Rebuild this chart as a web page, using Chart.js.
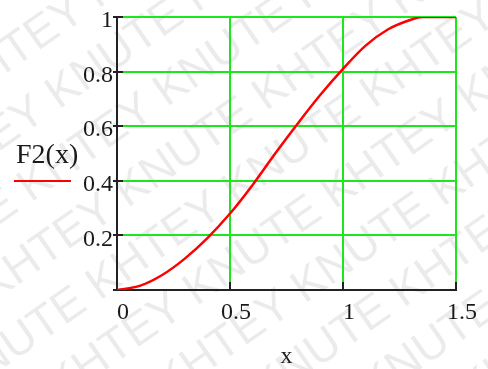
<!DOCTYPE html>
<html>
<head>
<meta charset="utf-8">
<script src="https://cdn.jsdelivr.net/npm/chart.js@4.4.1/dist/chart.umd.min.js"></script>
<style>
  html, body { margin: 0; padding: 0; background: #fff; }
  #wrap { width: 488px; height: 369px; position: relative; }
</style>
</head>
<body>
<div id="wrap"><canvas id="chart" width="488" height="369"></canvas></div>
<script>
// values
const xValues = [0, 0.1, 0.2, 0.3, 0.4, 0.5, 0.6, 0.7, 0.8, 0.9, 1.0, 1.1, 1.2, 1.3, 1.35, 1.4, 1.5];
const f2Values = [0, 0.015, 0.055, 0.115, 0.19, 0.28, 0.385, 0.5, 0.61, 0.715, 0.81, 0.895, 0.955, 0.99, 1, 1, 1];
const xTicks = [0, 0.5, 1, 1.5];
const yTicks = [0, 0.2, 0.4, 0.6, 0.8, 1];
const seriesLabel = 'F2(x)';
const xTitle = 'x';

const serif = "'Liberation Serif', 'DejaVu Serif', serif";
const gridGreen = '#1ee61e';

// faint watermark behind everything
const watermark = {
    id: 'watermark',
    beforeDraw(chart) {
        const ctx = chart.ctx;
        ctx.save();
        ctx.fillStyle = '#fff';
        ctx.fillRect(0, 0, chart.width, chart.height);
        ctx.translate(chart.width / 2, chart.height / 2);
        ctx.rotate(-35 * Math.PI / 180);
        ctx.font = "46px 'Liberation Sans', sans-serif";
        ctx.fillStyle = 'rgba(0,0,0,0.08)';
        ctx.textBaseline = 'middle';
        for (let r = -6; r <= 6; r++) {
            const shift = (r % 2 === 0) ? 0 : -90;
            ctx.fillText('KHTEY KNUTE KHTEY KNUTE KHTEY KNUTE', -520 + shift, r * 60);
        }
        ctx.restore();
    }
};

// inner tick marks, series label and line sample on the left
const extras = {
    id: 'extras',
    afterDraw(chart) {
        const ctx = chart.ctx;
        const xs = chart.scales.x, ys = chart.scales.y;
        const area = chart.chartArea;
        ctx.save();
        ctx.strokeStyle = '#222';
        ctx.lineWidth = 2;
        xTicks.forEach(v => {
            if (v === 0) return;
            const px = Math.round(xs.getPixelForValue(v));
            ctx.beginPath();
            ctx.moveTo(px, area.bottom);
            ctx.lineTo(px, area.bottom - 8);
            ctx.stroke();
        });
        yTicks.forEach(v => {
            if (v === 0) return;
            const py = Math.round(ys.getPixelForValue(v));
            ctx.beginPath();
            ctx.moveTo(area.left, py);
            ctx.lineTo(area.left + 6, py);
            ctx.stroke();
        });
        ctx.font = '28px ' + serif;
        ctx.fillStyle = '#1a1a1a';
        ctx.textBaseline = 'alphabetic';
        ctx.fillText(seriesLabel, 16, 163);
        ctx.strokeStyle = '#ff0000';
        ctx.beginPath();
        ctx.moveTo(14, 181);
        ctx.lineTo(71, 181);
        ctx.stroke();
        ctx.restore();
    }
};

new Chart(document.getElementById('chart'), {
    type: 'line',
    data: {
        datasets: [{
            label: seriesLabel,
            data: xValues.map((x, i) => ({ x: x, y: f2Values[i] })),
            borderColor: '#ff0000',
            borderWidth: 2.5,
            pointRadius: 0,
            fill: false,
            cubicInterpolationMode: 'monotone'
        }]
    },
    options: {
        responsive: false,
        animation: false,
        layout: { padding: { left: 0, right: 32, top: 17, bottom: 0 } },
        plugins: {
            legend: { display: false },
            tooltip: { enabled: false }
        },
        scales: {
            x: {
                type: 'linear',
                min: 0,
                max: 1.5,
                afterBuildTicks: s => { s.ticks = xTicks.map(v => ({ value: v })); },
                afterFit: s => { s.height = 79; },
                grid: {
                    color: c => (c.tick && c.tick.value === 0) ? 'rgba(0,0,0,0)' : gridGreen,
                    lineWidth: 2,
                    drawTicks: false
                },
                border: { color: '#222', width: 2 },
                ticks: {
                    font: { family: serif, size: 24 },
                    color: '#1a1a1a',
                    padding: 8,
                    labelOffset: 6,
                    maxRotation: 0,
                    callback: v => String(v)
                },
                title: {
                    display: true,
                    text: xTitle,
                    font: { family: serif, size: 24, lineHeight: 1 },
                    color: '#1a1a1a',
                    padding: 0
                }
            },
            y: {
                type: 'linear',
                min: 0,
                max: 1,
                afterBuildTicks: s => { s.ticks = yTicks.map(v => ({ value: v })); },
                afterFit: s => { s.width = 117; },
                grid: {
                    color: c => (c.tick && c.tick.value === 0) ? 'rgba(0,0,0,0)' : gridGreen,
                    lineWidth: 2,
                    tickColor: '#222',
                    tickLength: 4
                },
                border: { color: '#222', width: 2 },
                ticks: {
                    font: { family: serif, size: 24 },
                    color: '#1a1a1a',
                    padding: 0,
                    labelOffset: 4,
                    callback: v => v === 0 ? '' : String(v)
                }
            }
        }
    },
    plugins: [watermark, extras]
});
</script>
</body>
</html>
